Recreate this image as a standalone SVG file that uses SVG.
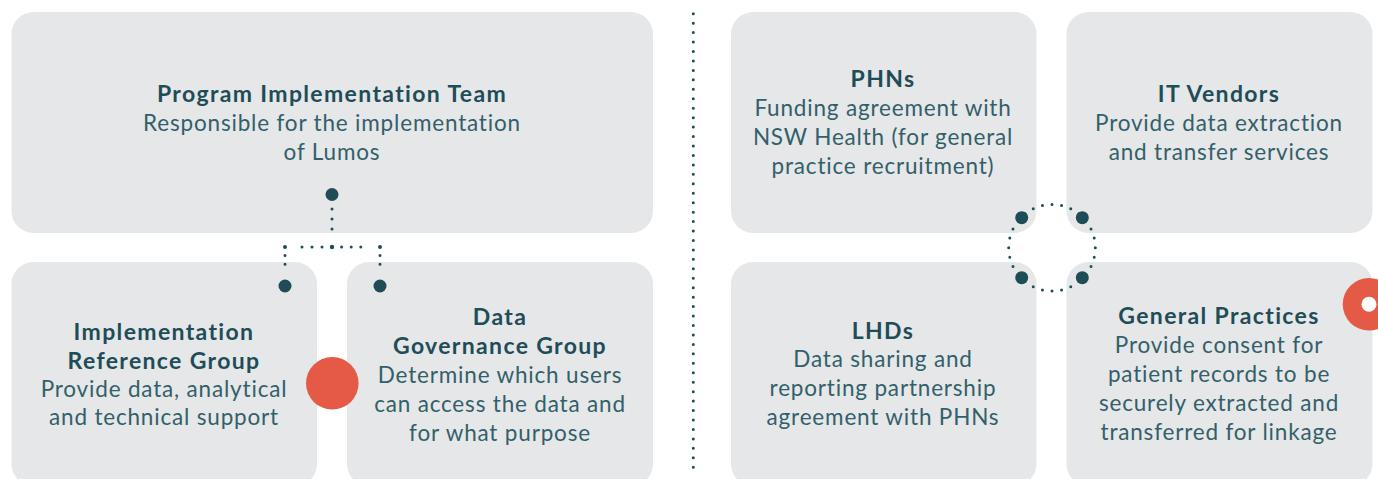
<svg xmlns="http://www.w3.org/2000/svg" width="1378" height="479" viewBox="0 0 1378 479">
<style>
.box{fill:#e6e7e8}
.t{font-family:Lato,"Liberation Sans",sans-serif;text-anchor:middle}
.h{font-weight:bold;fill:#1e4d58;font-size:23px;letter-spacing:1.35px}
.b{fill:#32606a;font-size:22.5px;letter-spacing:0.82px}
.dot{fill:#1e4d58}
.dl{fill:none;stroke:#1e4d58;stroke-linecap:round}
.red{fill:#e55a46}
</style>
<rect width="1378" height="479" fill="#ffffff"/>
<g id="program-team">
<rect class="box" x="11.5" y="12" width="641.5" height="221" rx="22"/>
<text class="t h" x="332" y="102">Program Implementation Team</text>
<text class="t b" x="332" y="131">Responsible for the implementation</text>
<text class="t b" x="332" y="160">of Lumos</text>
</g>
<g id="implementation-reference-group">
<rect class="box" x="11.5" y="262" width="305.5" height="224" rx="22"/>
<text class="t h" x="164" y="340">Implementation</text>
<text class="t h" x="164" y="369">Reference Group</text>
<text class="t b" x="164" y="397">Provide data, analytical</text>
<text class="t b" x="164" y="425">and technical support</text>
</g>
<g id="data-governance-group">
<rect class="box" x="347" y="262" width="306" height="224" rx="22"/>
<text class="t h" x="500" y="325">Data</text>
<text class="t h" x="500" y="354">Governance Group</text>
<text class="t b" x="500" y="383">Determine which users</text>
<text class="t b" x="500" y="412">can access the data and</text>
<text class="t b" x="500" y="441">for what purpose</text>
</g>
<g id="phns">
<rect class="box" x="731" y="12" width="305.5" height="221" rx="22"/>
<text class="t h" x="883" y="87">PHNs</text>
<text class="t b" x="883" y="116">Funding agreement with</text>
<text class="t b" x="883" y="145">NSW Health (for general</text>
<text class="t b" x="883" y="174">practice recruitment)</text>
</g>
<g id="it-vendors">
<rect class="box" x="1066.5" y="12" width="306" height="221" rx="22"/>
<text class="t h" x="1219" y="102">IT Vendors</text>
<text class="t b" x="1219" y="131">Provide data extraction</text>
<text class="t b" x="1219" y="160">and transfer services</text>
</g>
<g id="lhds">
<rect class="box" x="731" y="262" width="305.5" height="224" rx="22"/>
<text class="t h" x="883" y="339">LHDs</text>
<text class="t b" x="883" y="367">Data sharing and</text>
<text class="t b" x="883" y="396">reporting partnership</text>
<text class="t b" x="883" y="425">agreement with PHNs</text>
</g>
<g id="general-practices">
<rect class="box" x="1066.5" y="262" width="306" height="224" rx="22"/>
<text class="t h" x="1219" y="324">General Practices</text>
<text class="t b" x="1219" y="353">Provide consent for</text>
<text class="t b" x="1219" y="382">patient records to be</text>
<text class="t b" x="1219" y="411">securely extracted and</text>
<text class="t b" x="1219" y="440">transferred for linkage</text>
</g>
<g id="connectors">
<path class="dl" stroke-width="3" stroke-dasharray="0 9.449" d="M693.3,13.7 V476.7"/>
<path class="dl" stroke-width="3" stroke-dasharray="0 10" d="M332,209 V239"/>
<path class="dl" stroke-width="3" stroke-dasharray="0 10" d="M322,247 H292"/>
<path class="dl" stroke-width="3" stroke-dasharray="0 9.6" d="M341.6,247 H370.4"/>
<path class="dl" stroke-width="3" stroke-dasharray="0 8.6" d="M285,255.6 V272.8"/>
<path class="dl" stroke-width="3" stroke-dasharray="0 8.6" d="M380,255.6 V272.8"/>
<circle class="dot" cx="332" cy="247" r="2.2"/>
<circle class="dot" cx="285" cy="247" r="2"/>
<circle class="dot" cx="380" cy="247" r="2"/>
<circle class="dot" cx="332" cy="194.5" r="6.5"/>
<circle class="dot" cx="285" cy="286" r="6.5"/>
<circle class="dot" cx="380" cy="286" r="6.5"/>
<circle class="dl" cx="1052" cy="247.7" r="43.3" stroke-width="3" pathLength="28" stroke-dasharray="0 1"/>
<circle class="dot" cx="1021.7" cy="217.7" r="6.5"/>
<circle class="dot" cx="1082.3" cy="217.7" r="6.5"/>
<circle class="dot" cx="1021.7" cy="277.7" r="6.5"/>
<circle class="dot" cx="1082.3" cy="277.7" r="6.5"/>
</g>
<circle class="red" cx="332.3" cy="383.3" r="26.3"/>
<circle class="red" cx="1369" cy="304.3" r="26.3"/>
<circle cx="1369" cy="304.3" r="7.5" fill="#ffffff"/>
</svg>
